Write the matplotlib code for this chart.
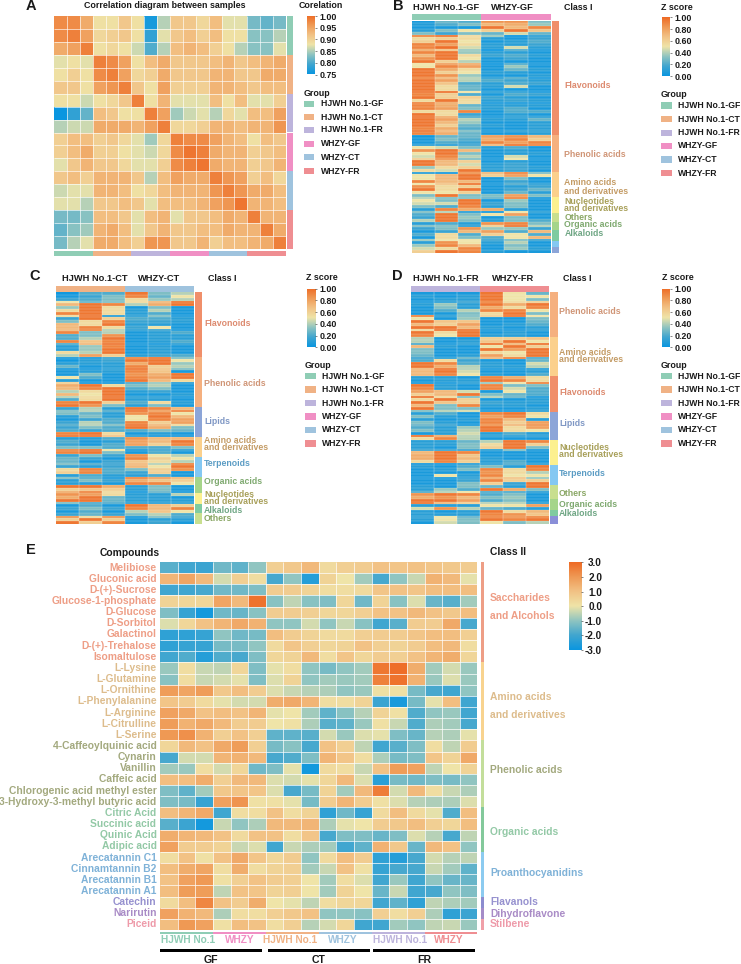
import numpy as np
import matplotlib
matplotlib.use('Agg')
import matplotlib.pyplot as plt
from matplotlib.colors import LinearSegmentedColormap

plt.rcParams['font.family'] = ['Liberation Sans', 'DejaVu Sans']
plt.rcParams['font.weight'] = 'bold'

# --- Data ---
group_names = ['HJWH No.1-GF', 'HJWH No.1-CT', 'HJWH No.1-FR', 'WHZY-GF', 'WHZY-CT', 'WHZY-FR']
group_colors = ['#8fcdb5', '#f0b285', '#bdb4dc', '#f08fc4', '#9fc3de', '#ef8e92']

corr_matrix = [
    [.97, .97, .94, .88, .88, .91, .88, .76, .85, .91, .91, .89, .92, .87, .87, .82, .81, .82],
    [.97, .98, .95, .89, .90, .91, .88, .78, .87, .91, .92, .90, .92, .88, .88, .83, .83, .85],
    [.94, .95, .98, .88, .89, .88, .86, .80, .85, .92, .93, .92, .90, .88, .85, .83, .83, .87],
    [.87, .88, .87, .98, .97, .95, .88, .92, .94, .91, .91, .91, .92, .93, .91, .92, .93, .94],
    [.88, .90, .88, .97, .98, .95, .89, .90, .94, .91, .91, .91, .93, .93, .91, .91, .94, .94],
    [.91, .91, .88, .95, .96, .98, .91, .88, .95, .90, .90, .90, .93, .93, .92, .91, .92, .92],
    [.88, .88, .86, .88, .89, .91, .98, .88, .93, .87, .87, .87, .92, .88, .92, .87, .87, .90],
    [.75, .78, .81, .92, .91, .88, .88, .98, .95, .84, .86, .87, .85, .89, .87, .92, .92, .95],
    [.85, .86, .86, .94, .94, .94, .93, .95, .98, .89, .89, .90, .93, .93, .92, .93, .93, .96],
    [.90, .92, .92, .90, .91, .89, .87, .84, .89, .98, .97, .97, .95, .93, .92, .88, .92, .91],
    [.90, .92, .94, .90, .90, .88, .87, .86, .89, .97, .99, .98, .94, .93, .93, .90, .91, .92],
    [.87, .91, .93, .91, .91, .89, .87, .87, .90, .97, .98, .99, .94, .93, .93, .90, .91, .93],
    [.91, .92, .90, .93, .93, .93, .91, .85, .92, .95, .94, .94, .98, .96, .95, .90, .92, .89],
    [.86, .87, .87, .93, .93, .92, .88, .89, .92, .93, .93, .93, .96, .98, .96, .94, .94, .92],
    [.87, .87, .85, .91, .91, .92, .91, .87, .92, .92, .92, .93, .95, .96, .99, .93, .93, .92],
    [.82, .82, .83, .92, .92, .91, .87, .92, .93, .87, .91, .91, .92, .94, .93, .98, .93, .93],
    [.81, .83, .84, .93, .94, .92, .87, .91, .93, .91, .91, .92, .92, .94, .93, .93, .98, .94],
    [.82, .85, .87, .94, .94, .92, .90, .96, .96, .91, .91, .93, .90, .92, .92, .93, .94, .98],
]

z_gf = [
    [.05, .25, .2, .85, .85, .3], [.08, .2, .3, .7, .75, .35], [.05, .05, .05, .95, .7, .9],
    [.1, .3, .5, .6, .95, .65], [.3, .15, .3, .25, .45, .25], [.9, .95, .55, .35, .0, .1],
    [.55, .6, .55, .1, .05, .15], [.6, .95, .5, .05, .1, .2], [.9, .8, .55, .1, .1, .15],
    [.9, .98, .45, .1, .45, .1], [.75, .65, .35, .0, .2, .05], [.9, .95, .35, .1, .1, .05],
    [.7, .95, .55, .15, .2, .1], [.85, .95, .5, .05, .15, .05], [.95, .6, .4, .05, .05, .05],
    [.5, .8, .75, .02, .2, .05], [.5, .9, .8, .05, .35, .05], [.95, .75, .55, .05, .25, .1],
    [.95, .6, .5, .1, .1, .05], [.95, .85, .35, .05, .05, .1], [.9, .7, .4, .1, .2, .05],
    [.95, .8, .4, .2, .15, .1], [.95, .65, .2, .1, .2, .15], [.95, .55, .25, .1, .45, .05],
    [.95, .55, .25, .05, .05, .05], [.95, .95, .5, .1, .1, .05], [.9, .6, .2, .05, .2, .15],
    [.95, .6, .6, .15, .1, .05], [.55, .95, .55, .1, .15, .1], [.9, .75, .55, .05, .05, .05],
    [.9, .75, .25, .1, .1, .1], [.9, .8, .3, .1, .2, .05], [.55, .55, .9, .05, .2, .2],
    [.95, .55, .15, .05, .1, .05], [.95, .75, .2, .05, .1, .1], [.95, .8, .4, .1, .1, .25],
    [.95, .7, .35, .05, .05, .1], [.95, .6, .25, .1, .05, .1], [.9, .75, .2, .05, .05, .1],
    [.95, .7, .3, .05, .1, .1], [.9, .75, .25, .05, .05, .1],
    [.03, .25, .25, .8, .85, .7], [.05, .3, .2, .75, .9, .6], [.05, .2, .15, .9, .8, .9],
    [.1, .1, .15, .7, .95, .9], [.5, .45, .3, .1, .2, .05], [.85, .95, .7, .05, .1, .05],
    [.5, .95, .3, .05, .1, .1], [.45, .9, .4, .05, .45, .05], [.6, .85, .3, .05, .5, .05],
    [.95, .7, .6, .05, .1, .05], [.95, .7, .45, .1, .15, .05], [.35, .55, .6, .1, .15, .1],
    [.55, .45, .95, .1, .15, .05], [.1, .05, .85, .7, .9, .3], [.5, .7, .95, .6, .8, .5],
    [.5, .7, .95, .05, .3, .05], [.9, .7, .7, .05, .15, .05], [.5, .65, .95, .05, .2, .1],
    [.85, .55, .6, .05, .1, .15], [.95, .55, .95, .05, .15, .25], [.5, .5, .6, .05, .25, .1],
    [.3, .95, .3, .3, .8, .3], [.4, .3, .3, .25, .9, .05], [.5, .3, .95, .05, .35, .05],
    [.45, .45, .95, .15, .3, .05], [.3, .2, .9, .1, .3, .05], [.1, .9, .75, .75, .1, .05],
    [.3, .4, .1, .05, .5, .1], [.2, .95, .3, .5, .8, .05], [.15, .95, .35, .05, .3, .05],
    [.4, .95, .3, .1, .3, .2], [.1, .2, .1, .85, .9, .3], [.3, .3, .1, .6, .95, .4],
    [.15, .3, .85, .35, .35, .15], [.05, .15, .7, .8, .2, .7], [.2, .55, .2, .6, .5, .2],
    [.05, .55, .3, .2, .5, .7], [.35, .5, .5, .15, .3, .15], [.1, .85, .5, .1, .4, .05],
    [.35, .9, .7, .05, .3, .05], [.45, .55, .9, .05, .35, .1], [.6, .95, .9, .1, .05, .05],
]

z_ct = [
    [.02, .2, .2, .95, .3, .4], [.05, .15, .3, .9, .25, .5], [.15, .2, .3, .55, .35, .4],
    [.5, .25, .3, .55, .7, .95], [.7, .95, .9, .4, .75, .95], [.35, .95, .55, .05, .3, .05],
    [.55, .95, .55, .1, .4, .05], [.9, .95, .55, .1, .2, .05], [.55, .95, .1, .1, .3, .05],
    [.15, .95, .6, .2, .2, .1], [.3, .55, .9, .15, .15, .1], [.7, .55, .95, .1, .1, .05],
    [.7, .9, .55, .15, .5, .05], [.7, .9, .4, .1, .15, .05], [.9, .3, .4, .05, .1, .2],
    [.2, .3, .85, .05, .1, .1], [.2, .4, .95, .05, .1, .1], [.9, .65, .9, .05, .1, .2],
    [.2, .7, .95, .05, .05, .1], [.1, .35, .9, .05, .1, .05], [.1, .35, .95, .05, .1, .05],
    [.55, .4, .95, .05, .1, .05], [.4, .8, .6, .1, .15, .2],
    [.05, .05, .15, .9, .95, .3], [.02, .1, .15, .95, .95, .5], [.1, .1, .1, .75, .95, .35],
    [.25, .05, .1, .9, .6, .4], [.05, .05, .1, .95, .65, .3], [.05, .1, .1, .9, .65, .05],
    [.05, .3, .05, .85, .75, .95], [.5, .2, .05, .9, .8, .95], [.1, .05, .05, .95, .7, .55],
    [.6, .05, .05, .2, .35, .1], [.75, .95, .55, .3, .4, .05], [.7, .9, .95, .2, .3, .05],
    [.4, .55, .95, .1, .15, .05], [.7, .5, .95, .05, .05, .1], [.4, .55, .95, .1, .1, .05],
    [.2, .55, .95, .1, .1, .05], [.9, .95, .6, .2, .55, .1], [.95, .85, .3, .1, .3, .05],
    [.15, .4, .1, .95, .9, .7], [.3, .4, .2, .95, .8, .9], [.3, .25, .1, .85, .9, .5],
    [.1, .3, .1, .5, .95, .7], [.05, .15, .2, .5, .9, .8], [.15, .4, .2, .9, .6, .8],
    [.2, .4, .3, .95, .7, .55], [.15, .3, .2, .95, .75, .3], [.2, .15, .2, .2, .3, .25],
    [.9, .95, .55, .05, .1, .05], [.95, .95, .65, .1, .05, .05],
    [.1, .1, .2, .85, .7, .7], [.2, .05, .1, .8, .7, .95], [.15, .05, .2, .8, .6, .9],
    [.3, .3, .2, .2, .2, .3], [.9, .95, .5, .05, .15, .1], [.9, .95, .3, .05, .2, .05],
    [.15, .3, .15, .85, .5, .4], [.25, .15, .05, .9, .6, .5], [.25, .05, .15, .65, .55, .4],
    [.3, .2, .15, .7, .4, .9], [.15, .1, .15, .7, .5, .95], [.55, .9, .2, .3, .6, .85],
    [.6, .9, .2, .15, .6, .05], [.1, .2, .1, .1, .2, .05], [.3, .2, .05, .9, .8, .7],
    [.1, .3, .15, .75, .65, .6], [.1, .1, .05, .9, .9, .5], [.95, .95, .75, .1, .3, .05],
    [.6, .65, .6, .1, .3, .05], [.75, .9, .55, .05, .25, .05], [.85, .8, .55, .1, .1, .4],
    [.75, .95, .25, .1, .1, .05], [.95, .95, .25, .1, .1, .1], [.3, .2, .2, .1, .1, .1],
    [.05, .2, .05, .95, .7, .6], [.15, .3, .15, .9, .7, .9], [.05, .2, .05, .4, .65, .5],
    [.15, .25, .15, .3, .4, .2], [.85, .55, .85, .05, .3, .15], [.6, .95, .6, .05, .1, .1],
    [.95, .6, .9, .05, .15, .05],
]

z_fr = [
    [.05, .05, .05, .95, .5, .25], [.1, .05, .1, .95, .5, .5], [.05, .1, .1, .95, .5, .3],
    [.05, .1, .15, .9, .55, .6], [.1, .35, .1, .95, .75, .95], [.05, .3, .1, .75, .55, .9],
    [.05, .2, .4, .9, .9, .5], [.05, .05, .3, .55, .95, .3], [.9, .1, .3, .6, .95, .5],
    [.5, .05, .35, .05, .05, .3], [.95, .65, .65, .05, .05, .25], [.7, .6, .8, .05, .1, .2],
    [.95, .95, .7, .1, .05, .1], [.55, .95, .95, .05, .05, .1], [.95, .55, .95, .05, .1, .05],
    [.9, .5, .95, .1, .1, .05], [.4, .05, .05, .6, .6, .65], [.4, .05, .1, .65, .95, .5],
    [.2, .05, .1, .95, .7, .95], [.7, .1, .05, .5, .95, .6], [.3, .05, .05, .95, .8, .95],
    [.3, .05, .05, .55, .5, .95], [.25, .05, .1, .8, .55, .95], [.15, .1, .25, .7, .9, .2],
    [.2, .55, .15, .05, .05, .25], [.95, .9, .2, .1, .05, .45], [.95, .75, .4, .1, .1, .4],
    [.7, .95, .4, .05, .05, .1], [.7, .95, .45, .05, .05, .1], [.7, .9, .5, .1, .05, .2],
    [.1, .1, .05, .9, .75, .55], [.05, .1, .1, .95, .9, .55], [.05, .05, .1, .35, .5, .9],
    [.95, .1, .05, .9, .3, .3], [.9, .1, .05, .9, .45, .2], [.8, .7, .45, .05, .5, .2],
    [.6, .7, .95, .3, .25, .2], [.95, .55, .3, .4, .25, .05], [.55, .95, .6, .05, .05, .1],
    [.95, .65, .6, .15, .1, .1], [.7, .3, .9, .1, .1, .05], [.95, .3, .3, .05, .05, .1],
    [.3, .4, .45, .05, .05, .1], [.1, .2, .05, .9, .95, .55], [.3, .1, .05, .8, .9, .5],
    [.1, .05, .1, .9, .7, .1], [.3, .1, .05, .9, .6, .8], [.25, .15, .05, .85, .7, .85],
    [.2, .1, .35, .95, .55, .8], [.3, .1, .4, .95, .55, .5], [.05, .1, .45, .1, .2, .1],
    [.95, .75, .4, .1, .1, .1], [.55, .9, .4, .05, .05, .05], [.1, .1, .25, .4, .95, .9],
    [.1, .1, .3, .55, .95, .6], [.1, .05, .3, .6, .95, .3], [.15, .15, .15, .1, .3, .05],
    [.7, .95, .9, .05, .05, .05], [.75, .95, .65, .05, .05, .05], [.75, .95, .7, .1, .05, .05],
    [.55, .9, .6, .1, .2, .05], [.05, .05, .1, .1, .2, .1], [.1, .05, .2, .3, .1, .95],
    [.05, .1, .3, .9, .55, .9], [.05, .05, .05, .85, .55, .4], [.05, .5, .1, .9, .5, .5],
    [.05, .05, .1, .75, .65, .35], [.05, .05, .15, .9, .6, .6], [.05, .05, .3, .6, .15, .95],
    [.1, .05, .3, .25, .1, .95], [.1, .35, .2, .95, .75, .3], [.2, .4, .5, .2, .2, .1],
    [.85, .95, .9, .2, .3, .05], [.75, .85, .7, .3, .35, .05], [.95, .95, .8, .2, .3, .05],
    [.95, .7, .6, .4, .4, .1], [.1, .1, .1, .5, .5, .8], [.45, .85, .4, .25, .2, .1],
    [.1, .05, .1, .95, .55, .7], [.1, .1, .1, .9, .85, .65], [.1, .5, .25, .9, .85, .9],
    [.1, .5, .3, .95, .9, .95], [.05, .45, .3, .5, .3, .4],
]

# row counts of each class strip, top to bottom
gf_class_counts = [41, 13, 9, 6, 3, 3, 4, 2, 2]
gf_class_colors = ['#f08f6a', '#f5b07f', '#fbd08c', '#fcf08f', '#c8df8f', '#a5d58a', '#7fcba0', '#84c8f2', '#8ca5d8']
ct_class_counts = [23, 18, 11, 7, 7, 6, 4, 3, 4]
ct_class_colors = ['#f08f6a', '#f5b07f', '#8ca5d8', '#fbd08c', '#84c8f2', '#a5d58a', '#fcf08f', '#7fcba0', '#c8df8f']
fr_class_counts = [16, 14, 13, 10, 9, 7, 5, 4, 2, 3]
fr_class_colors = ['#f5b07f', '#fbd08c', '#f08f6a', '#8ca5d8', '#fcf08f', '#84c8f2', '#c8df8f', '#a5d58a', '#7fcba0', '#8a8fd8']

compound_names = [
    'Melibiose', 'Gluconic acid', 'D-(+)-Sucrose', 'Glucose-1-phosphate', 'D-Glucose', 'D-Sorbitol',
    'Galactinol', 'D-(+)-Trehalose', 'Isomaltulose', 'L-Lysine', 'L-Glutamine', 'L-Ornithine',
    'L-Phenylalanine', 'L-Arginine', 'L-Citrulline', 'L-Serine', '4-Caffeoylquinic acid', 'Cynarin',
    'Vanillin', 'Caffeic acid', 'Chlorogenic acid methyl ester', '3-Hydroxy-3-methyl butyric acid',
    'Citric Acid', 'Succinic acid', 'Quinic Acid', 'Adipic acid', 'Arecatannin C1', 'Cinnamtannin B2',
    'Arecatannin B1', 'Arecatannin A1', 'Catechin', 'Narirutin', 'Piceid',
]
compound_values = [
    [-1.7, -2.0, -2.1, -1.4, -1.6, -1.0, 0.6, 0.8, 1.2, 0.3, 0.6, 0.7, 1.0, 0.9, 1.0, 0.9, 0.8, 0.7],
    [1.3, 1.7, 1.2, -0.3, 0.6, 0.2, -1.9, -1.0, -2.5, 0.5, 0.0, -0.8, -1.9, -1.0, -0.4, 1.4, 1.2, -0.1],
    [-2.0, -2.0, -1.9, -1.4, -1.4, -1.2, 0.7, 0.7, 0.5, 0.2, 0.2, 0.3, 0.9, 1.0, 0.9, 1.1, 1.1, 1.1],
    [0.5, 0.4, 0.4, 1.7, 1.2, 2.8, -1.1, -0.5, -1.1, -1.2, 0.4, -1.4, 0.5, -1.1, -0.2, -1.5, -1.7, -0.8],
    [-1.2, -2.2, -2.8, -1.4, -1.5, -1.1, 0.7, 0.7, 0.6, 0.4, 0.4, 0.6, 1.0, 1.0, 1.2, 1.0, 0.8, 1.1],
    [-0.2, 0.4, 1.0, 1.3, 1.6, 1.4, -1.0, -1.0, -0.3, -1.0, -0.4, -1.1, -2.0, -1.7, 0.7, 0.7, 1.6, -1.9],
    [-2.3, -2.3, -2.2, -1.0, -1.4, -1.3, 1.1, 0.7, 0.5, 0.3, 0.3, 0.6, 0.7, 0.7, 0.9, 1.1, 1.1, 0.6],
    [-2.3, -2.2, -2.2, -1.3, -1.3, -1.0, 0.3, 0.9, 0.6, 0.4, 0.5, 1.0, 0.6, 0.5, 0.7, 1.1, 1.2, 0.2],
    [-2.0, -1.8, -2.5, -1.8, -1.9, -1.2, 0.4, 0.5, 1.2, 0.2, 0.9, 0.4, 0.7, 0.6, 1.0, 1.3, 1.5, 0.4],
    [-0.9, 0.2, -0.4, -0.5, 0.4, -1.2, -0.1, 0.2, -1.0, -1.3, -1.0, -0.8, 2.7, 2.9, 1.5, -0.8, -0.3, -0.9],
    [-1.1, 0.2, -0.4, -0.3, -0.1, -1.2, -0.2, 0.5, -1.0, -0.8, -0.9, -0.8, 2.5, 2.8, 1.4, -0.9, -0.2, -0.9],
    [1.9, 1.7, 1.9, 0.8, 1.1, 0.7, -0.2, -0.4, -0.6, -0.7, -1.0, -0.9, 0.1, 0.1, -1.3, -1.9, -2.0, -1.0],
    [0.9, 0.7, 0.3, -0.1, -0.3, -0.3, 1.5, 1.6, 1.3, 0.2, 0.2, 0.5, -2.1, -2.7, -1.3, -0.1, 1.1, -2.0],
    [1.8, 1.6, 1.0, 1.1, 1.0, 1.3, -0.1, 0.0, -0.8, -1.6, -1.1, -0.6, 0.5, 0.1, -1.8, -1.0, -0.9, -2.0],
    [1.9, 1.4, 1.6, 1.2, 0.7, 0.7, 0.0, 0.1, -0.7, -1.7, -1.6, -0.9, 0.1, -0.4, -1.8, -0.7, -0.8, -1.9],
    [2.0, 2.2, 1.4, 0.6, 1.0, 0.6, -1.6, -1.6, -1.7, -0.3, -0.9, -0.2, -0.1, -1.2, -1.5, -0.6, -0.7, -0.1],
    [0.4, 1.2, 1.0, 1.6, 1.9, 0.6, -1.3, -1.1, -1.9, 1.0, 0.6, -0.5, -2.0, -1.7, -1.2, 0.2, -0.5, 0.7],
    [-1.9, -0.3, -0.3, 1.3, 1.4, 1.2, -1.9, -1.8, -1.2, 1.3, 0.9, 0.2, -0.7, -1.3, -1.2, 0.9, 0.5, 1.6],
    [-0.8, -0.9, 0.2, -0.3, 0.4, -1.4, -1.2, -0.1, -2.8, 0.3, 0.2, -0.4, 1.0, 1.9, 1.8, -0.5, 0.0, 0.5],
    [1.1, 1.1, 1.5, 0.6, 1.2, 1.2, -0.2, -0.3, -0.1, 0.4, 1.2, -0.2, -2.4, -1.3, -1.4, -1.2, -1.3, -1.0],
    [-1.2, -1.6, -0.8, 0.8, 0.9, 0.9, -0.2, -1.9, -1.3, 0.5, -0.8, 1.2, 2.6, -0.3, 1.2, 0.2, -0.4, -0.7],
    [-1.2, -1.3, -2.2, 1.8, 2.1, 0.1, 0.1, -0.1, -1.3, 0.7, 1.3, 0.7, 0.1, -0.2, -0.6, -0.7, -0.7, -0.2],
    [1.1, 1.3, 1.6, -2.0, 0.2, 0.2, 1.0, 0.2, 0.5, -2.3, -1.4, -2.2, 0.3, 1.1, 0.3, -0.1, -1.8, 1.1],
    [-1.7, -2.1, -2.8, -0.4, -1.0, -0.7, 1.2, 1.2, 1.3, -0.7, -0.1, 0.0, 0.7, 0.8, 1.1, 0.6, 0.4, 1.1],
    [1.5, 1.3, 1.2, 1.0, 0.3, 1.0, 1.0, 0.2, 0.9, -1.9, -1.2, -1.2, -1.5, -1.2, -0.2, -0.6, -1.9, -0.5],
    [1.8, 0.7, 0.7, 0.5, -0.4, -0.2, -2.0, -0.4, -0.7, -0.8, -2.0, -1.6, 1.4, 0.8, -1.5, 1.2, 1.0, -1.0],
    [0.2, 1.0, 0.1, 1.0, 1.6, 0.9, 0.4, 0.7, -1.0, 0.3, 1.1, 0.7, -2.3, -2.5, -1.9, -0.3, -0.6, -0.5],
    [1.1, 1.5, 1.7, 0.2, 1.5, 0.2, 0.5, 0.6, -0.8, -0.4, 1.0, 0.1, -2.2, -1.9, -1.9, -0.4, -0.8, -1.6],
    [1.0, 1.8, 2.0, 0.1, 0.6, 1.0, 0.7, 0.6, 0.0, -0.8, 0.2, -0.2, -2.0, -0.9, -2.0, -1.0, -1.5, -1.5],
    [1.1, 1.9, 1.9, -0.5, 1.0, 0.9, 0.5, 0.6, 0.0, -0.8, 0.5, 0.0, -1.5, -0.4, -2.0, -1.9, -1.0, -1.2],
    [0.3, 1.1, 2.4, 1.0, 0.7, 1.5, 0.0, -0.1, -0.5, 0.2, 0.4, 0.4, -2.0, -1.6, -2.3, -0.5, -0.7, -0.8],
    [1.8, 1.4, 1.2, -0.7, 0.2, 0.2, 0.6, 0.8, 1.0, -1.0, -1.0, -1.1, 0.6, 0.2, 0.6, -0.7, -2.3, -2.1],
    [1.1, 2.0, 1.8, 0.1, 1.1, 1.0, 0.2, 0.6, -0.6, -0.3, 0.4, -2.0, -2.0, -0.8, -1.0, -0.5, -0.4, -0.9],
]
compound_class_counts = [9, 7, 6, 4, 4, 1, 1, 1]
compound_class_colors = ['#ee9e86', '#f8d38f', '#c3de9b', '#83c99b', '#8ccbf0', '#8c8ccf', '#a58cc8', '#f0a0a8']
compound_text_colors = ['#ee9e86', '#ddbc8c', '#a3a97e', '#93c9a6', '#7fb2d8', '#9691cf', '#a98bc6', '#ee9aa9']

corr_ticks = [1.00, 0.95, 0.90, 0.85, 0.80, 0.75]
z_ticks = [1.00, 0.80, 0.60, 0.40, 0.20, 0.00]
e_ticks = [3.0, 2.0, 1.0, 0.0, -1.0, -2.0, -3.0]

# --- Layout helpers, everything in reference pixels ---
W, H = 741, 964
fig = plt.figure(figsize=(W / 100, H / 100), dpi=100)
heat_cmap = LinearSegmentedColormap.from_list('heat', [
    (0, '#0a96e0'), (.17, '#42a6cf'), (.33, '#8ec4c1'), (.5, '#efe4a8'),
    (.67, '#f2c184'), (.83, '#ef9a56'), (1, '#ee6a24')])


def px_axes(x0, y0, x1, y1):
    ax = fig.add_axes([x0 / W, 1 - y1 / H, (x1 - x0) / W, (y1 - y0) / H])
    ax.set_xticks([])
    ax.set_yticks([])
    for s in ax.spines.values():
        s.set_visible(False)
    return ax


def px_text(x, y, s, size=6.4, color='#1a1a1a', ha='left'):
    fig.text(x / W, 1 - y / H, s, fontsize=size, color=color, ha=ha, va='center', fontweight='bold')


def draw_heat(box, values, vmin, vmax, row_lw, col_lw, row_alpha=1.0):
    ax = px_axes(*box)
    values = np.array(values)
    n_rows, n_cols = values.shape
    ax.pcolormesh(values, cmap=heat_cmap, vmin=vmin, vmax=vmax, linewidth=0)
    # thin white cell borders, drawn apart so the short rows keep their colour
    ax.hlines(np.arange(1, n_rows), 0, n_cols, color='white', linewidth=row_lw, alpha=row_alpha)
    ax.vlines(np.arange(1, n_cols), 0, n_rows, color='white', linewidth=col_lw)
    ax.set_xlim(0, n_cols)
    ax.set_ylim(n_rows, 0)
    return ax


def color_strip(box, counts, colors, vertical=True):
    # stacked strip, one piece per group or class
    ax = px_axes(*box)
    start = 0
    for n, c in zip(counts, colors):
        if vertical:
            ax.barh(start, 1, height=n, left=0, align='edge', color=c, linewidth=0)
        else:
            ax.bar(start, 1, width=n, bottom=0, align='edge', color=c, linewidth=0)
        start += n
    if vertical:
        ax.set_xlim(0, 1)
        ax.set_ylim(sum(counts), 0)
    else:
        ax.set_ylim(0, 1)
        ax.set_xlim(0, sum(counts))


def colorbar(box, vmin, vmax, ticks, fmt, size=6.4, pad=1.5, right_align=False):
    ax = px_axes(*box)
    grad = np.linspace(vmax, vmin, 256).reshape(-1, 1)
    ax.imshow(grad, aspect='auto', cmap=heat_cmap, vmin=vmin, vmax=vmax, extent=[0, 1, vmin, vmax])
    ax.yaxis.tick_right()
    ax.set_yticks(ticks)
    labels = ax.set_yticklabels([fmt % t for t in ticks], fontsize=size, fontweight='bold', color='#1a1a1a')
    if right_align:
        for lab in labels:
            lab.set_ha('right')
    ax.tick_params(axis='y', length=1.5, width=0.5, pad=pad, color='#555555')


def group_legend(x_patch, x_text, y_title, ys):
    px_text(x_patch, y_title, 'Group')
    for name, color, y in zip(group_names, group_colors, ys):
        ax = px_axes(x_patch, y - 3, x_patch + 11, y + 3.2)
        ax.set_facecolor(color)
        px_text(x_text, y, name, size=6.2)


def class_labels(x, items):
    for y, s, c in items:
        px_text(x, y, s, size=6.3, color=c)


# Panel letters
px_text(26, 6, 'A', size=10.5)
px_text(393, 6, 'B', size=10.5)
px_text(29, 276, 'C', size=10.5)
px_text(392, 276, 'D', size=10.5)
px_text(26, 550, 'E', size=10.5)

# --- Panel A ---
draw_heat((54, 16, 286, 249), corr_matrix, 0.75, 1.0, 0.45, 0.45)
color_strip((287, 16, 292.5, 249), [3] * 6, group_colors)
color_strip((54, 250.5, 286, 256), [3] * 6, group_colors, vertical=False)
px_text(164.5, 6, 'Correlation diagram between samples', ha='center')
px_text(299, 6, 'Corelation')
colorbar((307, 16, 315, 74.5), 0.75, 1.0, corr_ticks, '%.2f')
group_legend(303.5, 321, 93, [103.5, 117, 130, 143.7, 157, 171])

# --- Panel B ---
draw_heat((411.7, 20.7, 550.7, 252.5), z_gf, 0, 1, 0.25, 0.2, row_alpha=0.55)
color_strip((411.7, 14, 481.2, 19.8), [1], [group_colors[0]], vertical=False)
color_strip((481.2, 14, 550.7, 19.8), [1], [group_colors[3]], vertical=False)
color_strip((551.7, 20.7, 558.7, 252.5), gf_class_counts, gf_class_colors)
px_text(413.3, 8, 'HJWH No.1-GF', size=6.7)
px_text(491, 8, 'WHZY-GF', size=6.7)
px_text(564.3, 7, 'Class I')
px_text(661, 7, 'Z score')
colorbar((662.3, 17.5, 670, 76), 0, 1, z_ticks, '%.2f')
group_legend(661, 678, 94.5, [105.3, 119, 132.7, 146, 159.3, 173])
class_labels(564.3, [
    (85.7, 'Flavonoids', '#dd8a6f'), (154.7, 'Phenolic acids', '#d09576'),
    (182.3, 'Amino acids', '#c49c66'), (191.3, 'and derivatives', '#c49c66'),
    (201.7, 'Nucleotides', '#a8a05a'), (208.5, 'and derivatives', '#a8a05a'),
    (217.3, 'Others', '#8aa765'), (224.7, 'Organic acids', '#7ea96f'), (234, 'Alkaloids', '#6fa684')])

# --- Panel C ---
draw_heat((55.7, 292.3, 194.3, 524), z_ct, 0, 1, 0.25, 0.2, row_alpha=0.55)
color_strip((55.7, 286, 125, 291.8), [1], [group_colors[1]], vertical=False)
color_strip((125, 286, 194.3, 291.8), [1], [group_colors[4]], vertical=False)
color_strip((195, 292.3, 202.3, 524), ct_class_counts, ct_class_colors)
px_text(61.7, 278.7, 'HJWH No.1-CT', size=6.7)
px_text(138.3, 278.7, 'WHZY-CT', size=6.7)
px_text(208, 278.7, 'Class I')
px_text(306, 277.7, 'Z score')
colorbar((306.7, 288.5, 315, 347.3), 0, 1, z_ticks, '%.2f')
group_legend(304.5, 322, 365, [376.3, 389.3, 403, 416.3, 429.7, 443.3])
class_labels(204, [
    (323.3, 'Flavonoids', '#dd8a6f'), (384, 'Phenolic acids', '#d09576'), (421.7, 'Lipids', '#7f97c4'),
    (441, 'Amino acids', '#c49c66'), (448, 'and derivatives', '#c49c66'), (463.3, 'Terpenoids', '#5b9cc4'),
    (481.7, 'Organic acids', '#7ea96f'), (494.7, 'Nucleotides', '#a8a05a'), (501.7, 'and derivatives', '#a8a05a'),
    (510.3, 'Alkaloids', '#6fa684'), (518.7, 'Others', '#8aa765')])

# --- Panel D ---
draw_heat((410.7, 292.3, 549.3, 524), z_fr, 0, 1, 0.25, 0.2, row_alpha=0.55)
color_strip((410.7, 286, 480, 291.8), [1], [group_colors[2]], vertical=False)
color_strip((480, 286, 549.3, 291.8), [1], [group_colors[5]], vertical=False)
color_strip((550.3, 292.3, 557.7, 524), fr_class_counts, fr_class_colors)
px_text(412.7, 278.7, 'HJWH No.1-FR', size=6.7)
px_text(491.7, 278.7, 'WHZY-FR', size=6.7)
px_text(563.3, 278.7, 'Class I')
px_text(661.7, 277.7, 'Z score')
colorbar((662.3, 288.5, 670, 347.3), 0, 1, z_ticks, '%.2f')
group_legend(661, 678, 365, [376.3, 389.3, 403, 416.3, 429.7, 443.3])
class_labels(559, [
    (312, 'Phenolic acids', '#d09576'), (352.7, 'Amino acids', '#c49c66'), (359.7, 'and derivatives', '#c49c66'),
    (392.3, 'Flavonoids', '#dd8a6f'), (423.7, 'Lipids', '#7f97c4'), (447.3, 'Nucleotides', '#a8a05a'),
    (454.3, 'and derivatives', '#a8a05a'), (473.7, 'Terpenoids', '#5b9cc4'), (494, 'Others', '#8aa765'),
    (504.7, 'Organic acids', '#7ea96f'), (513.3, 'Alkaloids', '#6fa684')])

# --- Panel E ---
e_top, e_bottom = 562, 930
draw_heat((160, e_top, 477.4, e_bottom), compound_values, -3, 3, 0.5, 0.5)
color_strip((480.7, e_top, 483.7, e_bottom), compound_class_counts, compound_class_colors)
row_h = (e_bottom - e_top) / len(compound_names)
row = 0
for n, c in zip(compound_class_counts, compound_text_colors):
    for i in range(n):
        px_text(156.5, e_top + (row + 0.5) * row_h, compound_names[row], size=7.35, color=c, ha='right')
        row += 1
px_text(160, 552.5, 'Compounds', size=7.4, ha='right')
px_text(490, 552, 'Class II', size=7.4)
color_strip((160, 931.5, 477.4, 934), [3] * 6, [group_colors[i] for i in (0, 3, 1, 4, 2, 5)], vertical=False)
for x, s, i in [(188, 'HJWH No.1', 0), (240, 'WHZY', 3), (290, 'HJWH No.1', 1),
                (343, 'WHZY', 4), (400, 'HJWH No.1', 2), (449, 'WHZY', 5)]:
    px_text(x, 940, s, size=7.3, color=group_colors[i], ha='center')
for x0, x1, s in [(160, 262, 'GF'), (268, 370, 'CT'), (372.7, 475.3, 'FR')]:
    ax = px_axes(x0, 949.3, x1, 952.3)
    ax.set_facecolor('black')
    px_text((x0 + x1) / 2, 960, s, size=7.6, ha='center')
for y, s, c in [(598, 'Saccharides', compound_text_colors[0]), (615.7, 'and Alcohols', compound_text_colors[0]),
                (697.3, 'Amino acids', compound_text_colors[1]), (715.3, 'and derivatives', compound_text_colors[1]),
                (770, 'Phenolic acids', compound_text_colors[2]), (831.7, 'Organic acids', compound_text_colors[3]),
                (872.7, 'Proanthocyanidins', compound_text_colors[4]), (902.3, 'Flavanols', compound_text_colors[5]),
                (914.3, 'Dihydroflavone', compound_text_colors[6]), (924.3, 'Stilbene', compound_text_colors[7])]:
    px_text(490, y, s, size=7.4, color=c)
colorbar((569, 562.3, 581.3, 650), -3, 3, e_ticks, '%.1f', size=7.2, pad=13.5, right_align=True)

fig.savefig('out.png', dpi=100)
